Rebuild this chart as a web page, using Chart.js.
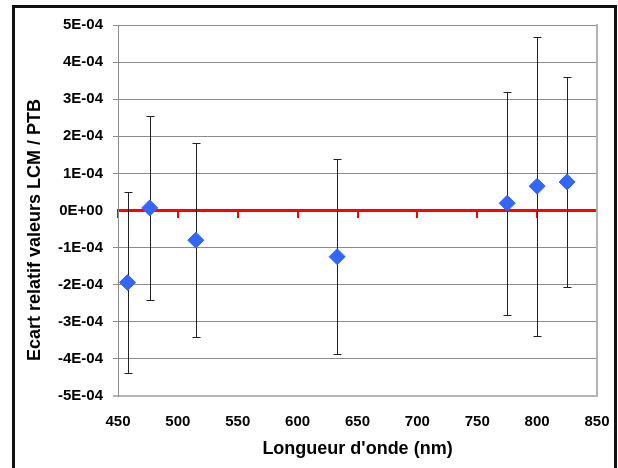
<!DOCTYPE html>
<html>
<head>
<meta charset="utf-8">
<script src="https://cdn.jsdelivr.net/npm/chart.js@4/dist/chart.umd.min.js"></script>
<style>
  html, body { margin: 0; padding: 0; background: #fff; }
  #wrap { position: relative; width: 618px; height: 468px; overflow: hidden; }
  #frame {
    position: absolute; left: 12px; top: 5px; width: 599px; height: 480px;
    border: 3px solid #111; border-bottom: none; pointer-events: none;
  }
  #ytitle {
    position: absolute; left: 34px; top: 230px; transform: translate(-50%, -50%) rotate(-90deg);
    font: bold 18px "Liberation Sans", Arial, sans-serif; white-space: nowrap; color: #000;
  }
</style>
</head>
<body>
<div id="wrap">
  <canvas id="chart" width="618" height="468"></canvas>
  <div id="ytitle">Ecart relatif valeurs LCM / PTB</div>
  <div id="frame"></div>
</div>
<script>
  const wavelengths = [458, 476.5, 515, 633, 775, 800, 825];
  const deviations = [-1.94e-4, 0.07e-4, -0.80e-4, -1.245e-4, 0.195e-4, 0.655e-4, 0.77e-4];
  const uncertainties = [2.44e-4, 2.47e-4, 2.61e-4, 2.62e-4, 3.0e-4, 4.03e-4, 2.83e-4];

  const yTickValues = [-5e-4, -4e-4, -3e-4, -2e-4, -1e-4, 0, 1e-4, 2e-4, 3e-4, 4e-4, 5e-4];
  const yTickLabels = ['-5E-04', '-4E-04', '-3E-04', '-2E-04', '-1E-04', '0E+00',
    '1E-04', '2E-04', '3E-04', '4E-04', '5E-04'];

  const FONT = '"Liberation Sans", Arial, sans-serif';

  const errorBars = {
    id: 'errorBars',
    beforeDatasetsDraw(chart) {
      const {ctx, scales: {x, y}} = chart;
      ctx.save();
      ctx.strokeStyle = '#222';
      ctx.lineWidth = 1;
      wavelengths.forEach((w, i) => {
        const px = Math.round(x.getPixelForValue(w)) + 0.5;
        const top = Math.round(y.getPixelForValue(deviations[i] + uncertainties[i])) + 0.5;
        const bottom = Math.round(y.getPixelForValue(deviations[i] - uncertainties[i])) + 0.5;
        ctx.beginPath();
        ctx.moveTo(px, top);
        ctx.lineTo(px, bottom);
        ctx.moveTo(px - 4, top);
        ctx.lineTo(px + 4, top);
        ctx.moveTo(px - 4, bottom);
        ctx.lineTo(px + 4, bottom);
        ctx.stroke();
      });
      ctx.restore();
    }
  };

  new Chart(document.getElementById('chart').getContext('2d'), {
    type: 'scatter',
    data: {
      datasets: [{
        data: wavelengths.map((w, i) => ({x: w, y: deviations[i]})),
        pointStyle: 'rectRot',
        pointRadius: 8,
        pointHoverRadius: 8,
        backgroundColor: '#3366ff',
        borderColor: '#3366ff',
        borderWidth: 1
      }]
    },
    options: {
      responsive: false,
      animation: false,
      events: [],
      layout: { padding: { left: 0, top: 25, right: 21, bottom: 0 } },
      plugins: { legend: { display: false }, tooltip: { enabled: false } },
      scales: {
        x: {
          type: 'linear',
          position: 'bottom',
          min: 450,
          max: 850,
          afterFit: s => { s.height = 72; s.paddingLeft = 0; s.paddingRight = 0; },
          grid: { display: false, drawTicks: false },
          border: { display: false },
          ticks: {
            stepSize: 50,
            padding: 17,
            color: '#000',
            font: { family: FONT, size: 15, weight: 'bold' }
          },
          title: {
            display: true,
            text: "Longueur d'onde (nm)",
            color: '#000',
            padding: { top: 0, bottom: 8 },
            font: { family: FONT, size: 18, weight: 'bold' }
          }
        },
        x2: {
          type: 'linear',
          axis: 'x',
          position: { y: 0 },
          min: 450,
          max: 850,
          afterFit: s => { s.paddingLeft = 0; s.paddingRight = 0; },
          ticks: { display: false, stepSize: 50 },
          grid: { drawOnChartArea: false, drawTicks: true, tickLength: 6, color: '#ff0000', lineWidth: 2 },
          border: { color: '#ff0000', width: 3 }
        },
        y: {
          type: 'linear',
          position: 'left',
          min: -5e-4,
          max: 5e-4,
          afterFit: s => { s.width = 118; },
          afterBuildTicks: s => { s.ticks = yTickValues.map(v => ({value: v})); },
          grid: {
            tickLength: 5,
            color: ctx => ctx.tick && ctx.tick.value === 0 ? 'rgba(0,0,0,0)'
              : (ctx.tick && ctx.tick.value === -5e-4 ? '#b4b4b4' : '#8c8c8c'),
            lineWidth: ctx => ctx.tick && ctx.tick.value === -5e-4 ? 2 : 1
          },
          border: { color: '#8c8c8c', width: 1 },
          ticks: {
            padding: 10,
            color: '#000',
            font: { family: FONT, size: 15, weight: 'bold' },
            callback: (v, i) => yTickLabels[i]
          }
        },
        yr: {
          type: 'linear',
          position: 'right',
          min: -5e-4,
          max: 5e-4,
          afterFit: s => { s.width = 0; s.paddingTop = 0; s.paddingBottom = 0; },
          grid: { display: false, drawTicks: false },
          ticks: { display: false },
          border: { color: '#b4b4b4', width: 2 }
        }
      }
    },
    plugins: [errorBars]
  });
</script>
</body>
</html>
